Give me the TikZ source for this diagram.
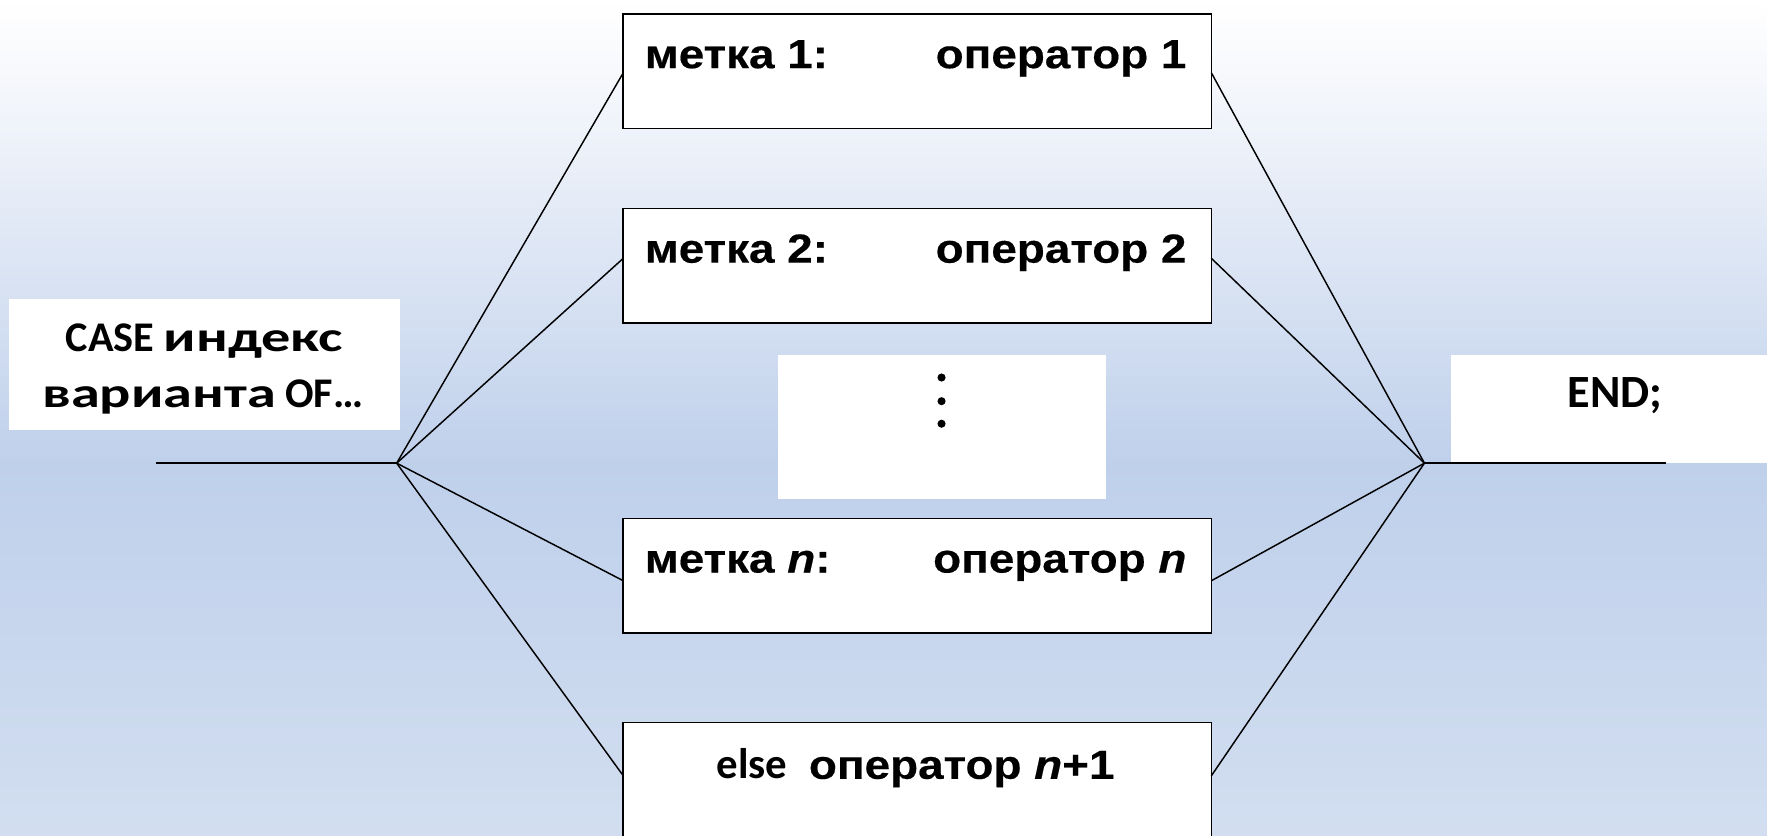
\documentclass[tikz,border=0pt]{standalone}
\usepackage{fontspec}
\newfontfamily\arialb[FakeStretch=1.13,FakeBold=0.4]{Liberation Sans}
\newfontfamily\calb{Carlito}
\newfontfamily\calwide[FakeStretch=1.38]{Carlito}
\definecolor{bgA}{HTML}{F6F8FC}
\definecolor{bgB}{HTML}{BFD0EB}
\definecolor{bgC}{HTML}{D2DEF0}
\begin{document}
\begin{tikzpicture}[x=1pt,y=-1pt,
  opbox/.style={draw=black, line width=1.4pt, fill=white, minimum width=522pt, minimum height=101.5pt, inner sep=0pt, outer sep=0pt},
  plainbox/.style={fill=white, draw=none, inner sep=0pt, outer sep=0pt},
  conn/.style={line width=1.3pt, line cap=round},
  hline/.style={line width=1.9pt},
  optext/.style={font=\arialb\bfseries\fontsize{36}{40}\selectfont, inner sep=0pt},
  caltext/.style={font=\calb\bfseries\fontsize{37.5}{42}\selectfont, inner sep=0pt}
]
\useasboundingbox (0,0) rectangle (1568,741);
% background gradient
\shade[top color=white, bottom color=bgA] (0,0) rectangle (1568,70.5);
\shade[top color=bgA, bottom color=bgB] (0,70) rectangle (1568,410.5);
\shade[top color=bgB, bottom color=bgC] (0,410) rectangle (1568,741);

% white label boxes
\node[plainbox, minimum width=347pt, minimum height=117pt] (casebox) at (181.5,323.5) {};
\node[plainbox, minimum width=291pt, minimum height=128pt] (dots) at (835.5,379) {};
\node[plainbox, minimum width=280pt, minimum height=96pt] (endbox) at (1428,363) {};

% junction points
\coordinate (L0) at (138,411);
\coordinate (J1) at (352,411);
\coordinate (J2) at (1264,411);
\coordinate (R0) at (1478,411);

% operator boxes
\node[opbox] (b1) at (814,63.2) {};
\node[opbox] (b2) at (814,235.8) {};
\node[opbox] (bn) at (814,510.8) {};
\node[opbox] (be) at (814,691.8) {};

% connectors
\draw[hline] (L0) -- (J1);
\draw[hline] (J2) -- (R0);
\draw[conn] (J1) -- ([yshift=-1.5pt]b1.west);
\draw[conn] (J1) -- ([yshift=6.5pt]b2.west);
\draw[conn] (J1) -- ([yshift=-4.5pt]bn.west);
\draw[conn] (J1) -- ([yshift=3.5pt]be.west);
\draw[conn] (J2) -- ([yshift=-1.5pt]b1.east);
\draw[conn] (J2) -- ([yshift=6.5pt]b2.east);
\draw[conn] (J2) -- ([yshift=-4.5pt]bn.east);
\draw[conn] (J2) -- ([yshift=3.5pt]be.east);

% box texts
\node[optext, anchor=base west] (t1a) at ([xshift=19pt,yshift=-48pt]b1.north west) {метка 1:};
\node[optext, anchor=base east] (t1b) at ([xshift=-22pt,yshift=-48pt]b1.north east) {оператор 1};
\node[optext, anchor=base west] (t2a) at ([xshift=19pt,yshift=-48pt]b2.north west) {метка 2:};
\node[optext, anchor=base east] (t2b) at ([xshift=-22pt,yshift=-48pt]b2.north east) {оператор 2};
\node[optext, anchor=base west] (tna) at ([xshift=19pt,yshift=-48pt]bn.north west) {метка \textit{n}:};
\node[optext, anchor=base east] (tnb) at ([xshift=-22pt,yshift=-48pt]bn.north east) {оператор \textit{n}};
\node[inner sep=0pt, anchor=base] (te) at ([xshift=-1.5pt,yshift=-50pt]be.north)
  {{\calb\bfseries\fontsize{38}{42}\selectfont else}\hspace{19pt}{\arialb\bfseries\fontsize{36}{40}\selectfont оператор \textit{n}+1}};

% dots
\fill ([yshift=-20pt]dots.north) circle (3.6pt);
\fill ([yshift=-41pt]dots.north) circle (3.6pt);
\fill ([yshift=-61pt]dots.north) circle (3.6pt);

% side labels
\node[caltext, anchor=base] (c1) at (181.5,312) {CASE {\calwide\bfseries индекс}};
\node[caltext, anchor=base] (c2) at (180,362) {{\calwide\bfseries варианта} OF…};
\node[caltext, font=\calb\bfseries\fontsize{41}{45}\selectfont, anchor=base] (endt) at (1433,362) {END;};
\end{tikzpicture}
\end{document}
